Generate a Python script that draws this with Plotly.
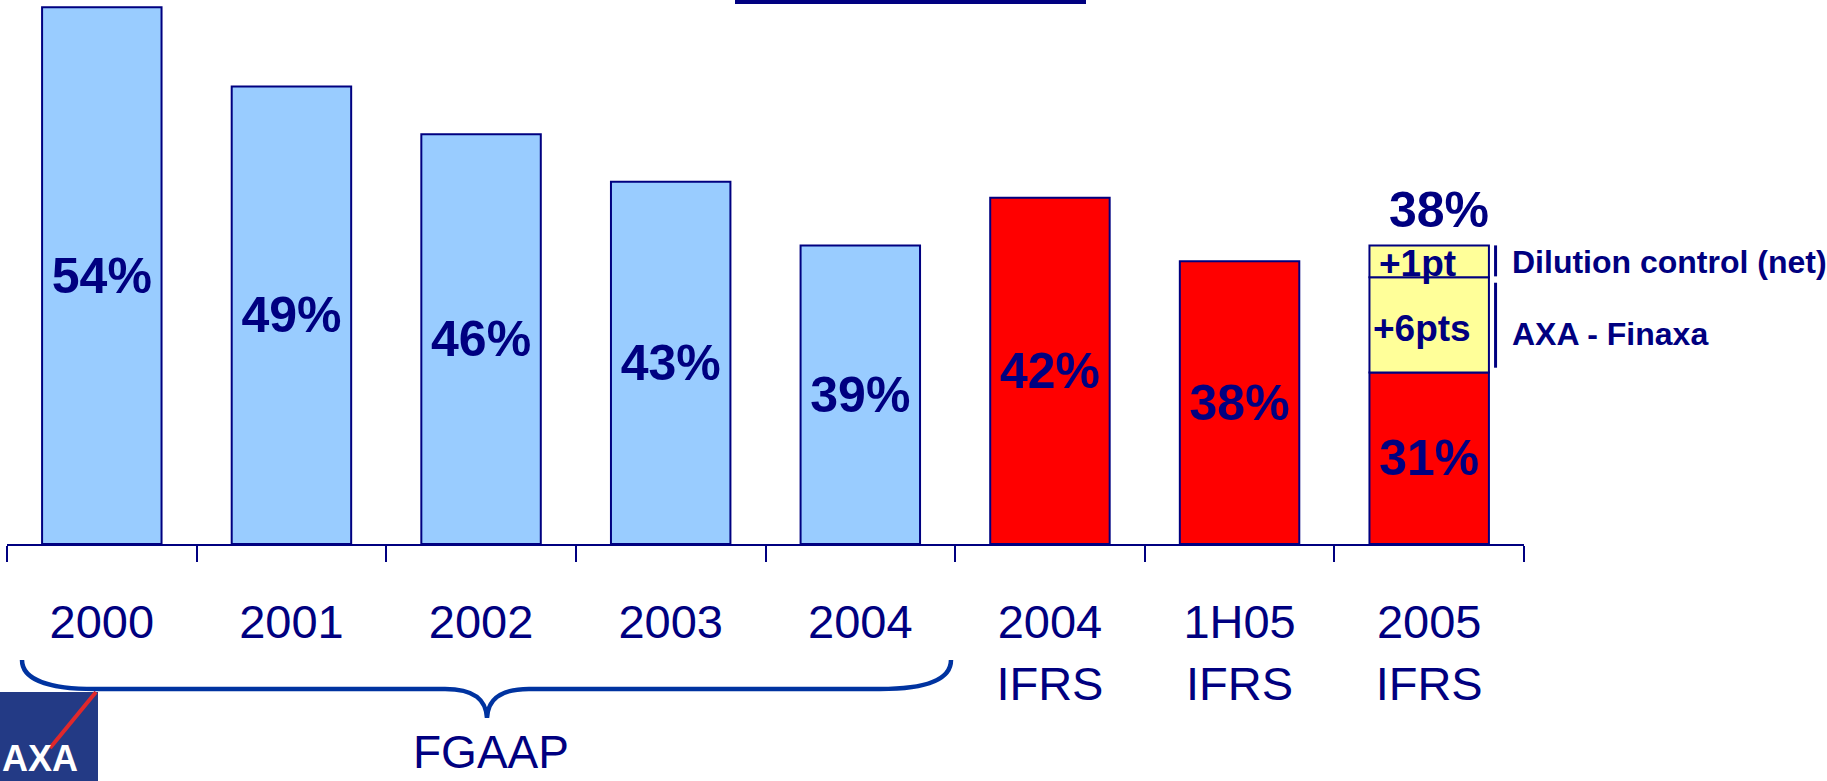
import plotly.graph_objects as go

# ---------------- data ----------------
categories = ["2000", "2001", "2002", "2003", "2004", "2004<br>IFRS", "1H05<br>IFRS", "2005<br>IFRS"]
gearing = [54, 49, 46, 43, 39, 42, 38, 31]
gearing_labels = ["54%", "49%", "46%", "43%", "39%", "42%", "38%", "31%"]
basis = ["FGAAP", "FGAAP", "FGAAP", "FGAAP", "FGAAP", "IFRS", "IFRS", "IFRS"]

stack_category = "2005<br>IFRS"
finaxa_value = [6]
finaxa_label = "+6pts"
finaxa_note = "AXA - Finaxa"
dilution_value = [2]          # drawn height
dilution_label = "+1pt"
dilution_note = "Dilution control (net)"
total_label = "38%"
bracket_label = "FGAAP"

y_floor = 20.2
y_top = 54.45

# ---------------- style ----------------
NAVY = "#000080"
BRACE = "#0033A0"
FONT = "Liberation Sans, Arial, sans-serif"
basis_colors = {"FGAAP": "#99CCFF", "IFRS": "#FF0000"}
YELLOW = "#FFFF99"

W, H = 1827, 781
L, R = 7, 1524      # plot area left/right in px
T, B = 0, 544       # plot area top / axis line in px


def px(x):
    return (x - L) / (R - L)


def py(y):
    return (B - y) / (B - T)


idx = categories.index(stack_category)
base = gearing[idx]
fin_top = base + finaxa_value[0]
total = fin_top + dilution_value[0]

fig = go.Figure()
fig.add_trace(go.Bar(
    x=categories, y=[v - y_floor for v in gearing], base=y_floor,
    marker=dict(color=[basis_colors[b] for b in basis], line=dict(color=NAVY, width=2)),
    text=gearing_labels, textposition="inside", insidetextanchor="middle", textangle=0,
    insidetextfont=dict(family=FONT, size=50, color=NAVY, weight="bold"),
    hoverinfo="skip", showlegend=False,
))
fig.add_trace(go.Bar(
    x=[stack_category], y=finaxa_value, base=[base],
    marker=dict(color=YELLOW, line=dict(color=NAVY, width=2)),
    hoverinfo="skip", showlegend=False,
))
fig.add_trace(go.Bar(
    x=[stack_category], y=dilution_value, base=[fin_top],
    marker=dict(color=YELLOW, line=dict(color=NAVY, width=2)),
    hoverinfo="skip", showlegend=False,
))

annotations = [
    dict(x=stack_category, y=base + finaxa_value[0] / 2, text=finaxa_label, showarrow=False,
         font=dict(family=FONT, size=37, color=NAVY, weight="bold"), yshift=-4, xshift=-7),
    dict(x=stack_category, y=fin_top + dilution_value[0] / 2, text=dilution_label, showarrow=False,
         font=dict(family=FONT, size=37, color=NAVY, weight="bold"), yshift=-2, xshift=-12),
    dict(x=stack_category, y=total, text=total_label, showarrow=False, yanchor="bottom",
         font=dict(family=FONT, size=50, color=NAVY, weight="bold"), yshift=5, xshift=10),
    dict(x=idx + 0.427, y=fin_top + dilution_value[0] / 2, text=dilution_note, showarrow=False,
         xanchor="left", font=dict(family=FONT, size=32, color=NAVY, weight="bold"), yshift=-1),
    dict(x=idx + 0.427, y=base + finaxa_value[0] / 2, text=finaxa_note, showarrow=False,
         xanchor="left", font=dict(family=FONT, size=32, color=NAVY, weight="bold"), yshift=-9),
    dict(xref="paper", yref="paper", x=px(491), y=py(752), xanchor="center", yanchor="middle",
         text=bracket_label, showarrow=False, font=dict(family=FONT, size=46, color=NAVY)),
    dict(xref="paper", yref="paper", x=px(40), y=py(781), xanchor="center", yanchor="bottom",
         text="<b>AXA</b>", showarrow=False, font=dict(family=FONT, size=36, color="white")),
]

shapes = [
    # marker lines beside the 2005 stack
    dict(type="line", xref="x", yref="y", x0=idx + 0.35, x1=idx + 0.35, y0=total, y1=fin_top + 0.05,
         line=dict(color=NAVY, width=3)),
    dict(type="line", xref="x", yref="y", x0=idx + 0.35, x1=idx + 0.35, y0=fin_top - 0.35, y1=base + 0.3,
         line=dict(color=NAVY, width=3)),
    # top line remnant
    dict(type="rect", xref="paper", yref="paper", x0=px(735), x1=px(1086), y0=py(0), y1=py(4),
         fillcolor=NAVY, line=dict(width=0)),
    # logo
    dict(type="rect", xref="paper", yref="paper", x0=px(0), x1=px(98), y0=py(692), y1=py(790),
         fillcolor="#233A85", line=dict(width=0), layer="below"),
    dict(type="line", xref="paper", yref="paper", x0=px(96), x1=px(50), y0=py(692), y1=py(748),
         line=dict(color="#E0282B", width=4)),
]

pts = [(22, 660), (22, 680), (50, 689), (95, 689), (445, 689), (475, 689), (486, 700), (487, 718),
       (488, 700), (499, 689), (529, 689), (880, 689), (925, 689), (951, 680), (951, 660)]
P = [f"{px(x):.5f},{py(y):.5f}" for x, y in pts]
path = (f"M {P[0]} C {P[1]} {P[2]} {P[3]} L {P[4]} C {P[5]} {P[6]} {P[7]} "
        f"C {P[8]} {P[9]} {P[10]} L {P[11]} C {P[12]} {P[13]} {P[14]}")
shapes.append(dict(type="path", xref="paper", yref="paper", path=path,
                   line=dict(color=BRACE, width=4.5)))

fig.update_layout(
    width=W, height=H,
    margin=dict(l=L, r=W - R, t=T, b=H - B, pad=0),
    barmode="overlay", bargap=0.37,
    paper_bgcolor="white", plot_bgcolor="white",
    font=dict(family=FONT, color=NAVY),
    annotations=annotations, shapes=shapes,
    xaxis=dict(type="category", range=[-0.5, len(categories) - 0.5],
               showline=True, linecolor=NAVY, linewidth=2,
               ticks="outside", tickson="boundaries", ticklen=16, tickwidth=2, tickcolor=NAVY,
               tickfont=dict(family=FONT, size=47, color=NAVY), ticklabelstandoff=36,
               showgrid=False, zeroline=False, automargin=False, fixedrange=True),
    yaxis=dict(range=[y_floor, y_top], showticklabels=False, showgrid=False, zeroline=False,
               showline=False, ticks="", automargin=False, fixedrange=True),
)

fig.write_html("out.html", config={"displayModeBar": False},
               post_script="document.body.style.margin='0';document.body.style.overflow='hidden';")
